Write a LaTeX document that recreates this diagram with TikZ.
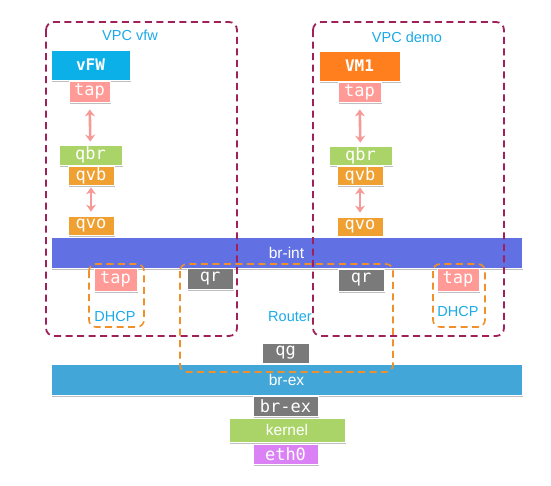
\documentclass[tikz,border=0pt]{standalone}
\usepackage{fontspec}
\setmainfont{Liberation Sans}
\newfontfamily\codef{DejaVu Sans Mono}
\usetikzlibrary{shadows,arrows.meta}
\definecolor{cvfw}{HTML}{0BB0E8}
\definecolor{cvm}{HTML}{FF7F1E}
\definecolor{ctap}{HTML}{FF9A96}
\definecolor{cgreen}{HTML}{AAD468}
\definecolor{corange}{HTML}{F0A030}
\definecolor{cbrint}{HTML}{6170E2}
\definecolor{cgray}{HTML}{7A7A7A}
\definecolor{cbrex}{HTML}{42A6D9}
\definecolor{ceth}{HTML}{DA82F5}
\definecolor{carrow}{HTML}{F59A96}
\definecolor{cvpc}{HTML}{A0205A}
\definecolor{cdash}{HTML}{F0902A}
\definecolor{clabel}{HTML}{1AAAE8}
\begin{document}
\begin{tikzpicture}[x=1pt,y=-1pt,
  box/.style={draw=white, line width=0.8pt, inner sep=0pt, text=white,
    drop shadow={shadow xshift=1.2pt, shadow yshift=-1.6pt, opacity=0.5}},
  codebox/.style={box, font=\codef\fontsize{17}{20}\selectfont},
  vmbox/.style={box, font=\codef\bfseries\fontsize{16}{19}\selectfont},
  sansbox/.style={box, font=\fontsize{15.5}{18}\selectfont},
  lbl/.style={text=clabel, font=\fontsize{14.5}{17}\selectfont, inner sep=0pt},
  vpc/.style={draw=cvpc, line width=1.8pt, dash pattern=on 7pt off 4.5pt, rounded corners=8pt},
  grp/.style={draw=cdash, line width=1.6pt, dash pattern=on 7pt off 4.5pt, rounded corners=7pt},
  link/.style={draw=carrow, line width=2.6pt, {Stealth[length=7pt,width=10pt]}-{Stealth[length=7pt,width=10pt]}}
]
\useasboundingbox (0,0) rectangle (551,485);

% left VPC
\node[vmbox, fill=cvfw, minimum width=79pt, minimum height=30pt] (vfw) at (90.5,65) {vFW};
\node[codebox, fill=ctap, minimum width=41pt, minimum height=21pt] (tapA) at (89.5,91.5) {tap};
\node[codebox, fill=cgreen, minimum width=63pt, minimum height=20pt] (qbrA) at (90.5,155) {qbr};
\node[codebox, fill=corange, minimum width=46pt, minimum height=19pt] (qvbA) at (91,175.5) {qvb};
\node[codebox, fill=corange, minimum width=46pt, minimum height=19pt] (qvoA) at (91,225.5) {qvo};

% right VPC
\node[vmbox, fill=cvm, minimum width=81pt, minimum height=30pt] (vm1) at (359.5,66) {VM1};
\node[codebox, fill=ctap, minimum width=43pt, minimum height=20pt] (tapB) at (359.5,92) {tap};
\node[codebox, fill=cgreen, minimum width=63pt, minimum height=19pt] (qbrB) at (360.5,155.5) {qbr};
\node[codebox, fill=corange, minimum width=46pt, minimum height=19pt] (qvbB) at (360,175.5) {qvb};
\node[codebox, fill=corange, minimum width=46pt, minimum height=19pt] (qvoB) at (360,226.5) {qvo};

% bridges
\node[sansbox, fill=cbrint, minimum width=471pt, minimum height=31pt] (brint) at (286.5,252.5) {br-int};
\node[codebox, fill=ctap, minimum width=43pt, minimum height=23pt] (tapC) at (115.5,279.5) {tap};
\node[codebox, fill=cgray, minimum width=46pt, minimum height=21pt] (qrA) at (210,278.5) {qr};
\node[codebox, fill=cgray, minimum width=46pt, minimum height=22pt] (qrB) at (361,280) {qr};
\node[codebox, fill=ctap, minimum width=42pt, minimum height=23pt] (tapD) at (458,279.5) {tap};
\node[codebox, fill=cgray, minimum width=47pt, minimum height=20pt] (qg) at (285.5,353) {qg};
\node[sansbox, fill=cbrex, minimum width=471pt, minimum height=31pt] (brex) at (286.5,379.5) {br-ex};
\node[codebox, fill=cgray, minimum width=65pt, minimum height=20pt] (brexs) at (285.5,406) {br-ex};
\node[sansbox, fill=cgreen, minimum width=116pt, minimum height=24pt] (kernel) at (287,430) {kernel};
\node[codebox, fill=ceth, minimum width=65pt, minimum height=20pt] (eth0) at (285.5,454) {eth0};

% links
\draw[link, shorten <=7pt, shorten >=3pt] (tapA) -- (qbrA);
\draw[link, shorten <=2pt, shorten >=4pt] (qvbA) -- (qvoA);
\draw[link, shorten <=7pt, shorten >=3pt] (tapB) -- (qbrB);
\draw[link, shorten <=2pt, shorten >=4pt] (qvbB) -- (qvoB);

% groups
\draw[vpc] (46,22) rectangle (237,336);
\draw[vpc] (313,22) rectangle (504,336);
\draw[grp] (89,264) rectangle (144,327);
\draw[grp] (180,264) rectangle (393,372);
\draw[grp] (433,264) rectangle (485,327);

% labels
\node[lbl] (lvfw) at (130,35) {VPC vfw};
\node[lbl] (ldemo) at (407,37) {VPC demo};
\node[lbl] (ldhcpA) at (115,317) {DHCP};
\node[lbl] (ldhcpB) at (458,312) {DHCP};
\node[lbl] (lrouter) at (290,317) {Router};
\end{tikzpicture}
\end{document}
